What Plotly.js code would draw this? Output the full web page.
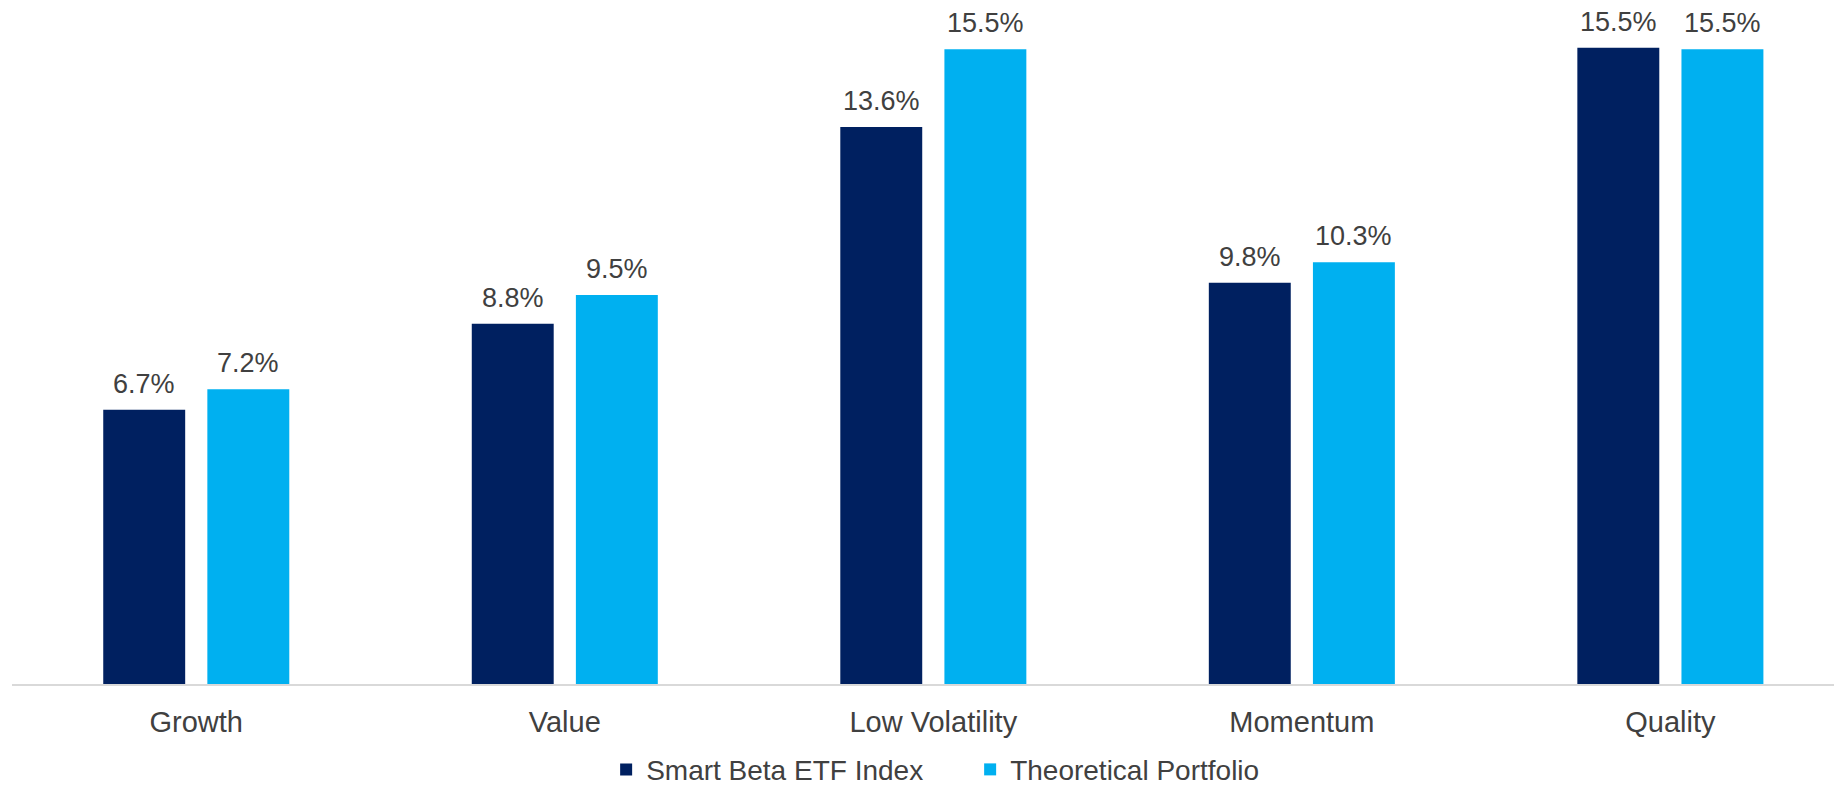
<!DOCTYPE html>
<html>
<head>
<meta charset="utf-8">
<script src="https://cdn.plot.ly/plotly-3.0.1.min.js"></script>
<style>html,body{margin:0;padding:0;background:#fff;}#chart{width:1834px;height:787px;}</style>
</head>
<body>
<div id="chart"></div>
<script>
const categories = ["Growth", "Value", "Low Volatility", "Momentum", "Quality"];
const smartBeta = [6.7, 8.8, 13.6, 9.8, 15.54];
const theoretical = [7.2, 9.5, 15.5, 10.3, 15.5];
const seriesNames = ["Smart Beta ETF Index", "Theoretical Portfolio"];

const FONT = "Liberation Sans, Arial, sans-serif";
const labelFont = {family: FONT, size: 27, color: "#404040"};
const axisFont = {family: FONT, size: 29, color: "#404040"};

const BARGAP = 0.435;
const groupWidth = 1 - BARGAP;
const offsets = [-groupWidth / 4, groupWidth / 4];

const traces = [
  {type: "bar", name: seriesNames[0], x: categories, y: smartBeta,
   marker: {color: "#002060"}, hoverinfo: "none"},
  {type: "bar", name: seriesNames[1], x: categories, y: theoretical,
   marker: {color: "#00B0F0"}, hoverinfo: "none"}
];

const annotations = [];
[smartBeta, theoretical].forEach((series, s) => {
  series.forEach((v, i) => {
    annotations.push({
      xref: "x", yref: "y", x: i + offsets[s], y: v,
      text: v.toFixed(1) + "%", showarrow: false,
      yanchor: "bottom", xanchor: "center", yshift: 9,
      font: labelFont
    });
  });
});

const layout = {
  width: 1834, height: 787,
  margin: {l: 12, r: 0, t: 10, b: 103},
  paper_bgcolor: "#ffffff", plot_bgcolor: "#ffffff",
  barmode: "group", bargap: BARGAP, bargroupgap: 0.213,
  font: labelFont,
  annotations: annotations,
  xaxis: {type: "category", range: [-0.5, 4.444], showline: true, linecolor: "#d9d9d9", linewidth: 2,
          ticks: "", ticklabelstandoff: 11, tickfont: axisFont, showgrid: false, zeroline: false, fixedrange: true},
  yaxis: {range: [0, 16.46], visible: false, showgrid: false, zeroline: false, fixedrange: true},
  showlegend: true,
  legend: {orientation: "h", xref: "container", yref: "container", x: 0.3305, xanchor: "left",
           y: 0.022, yanchor: "middle", font: {family: FONT, size: 28, color: "#404040"},
           traceorder: "normal", entrywidth: 319, entrywidthmode: "pixels"}
};

Plotly.newPlot("chart", traces, layout, {staticPlot: true, displayModeBar: false});
</script>
</body>
</html>
